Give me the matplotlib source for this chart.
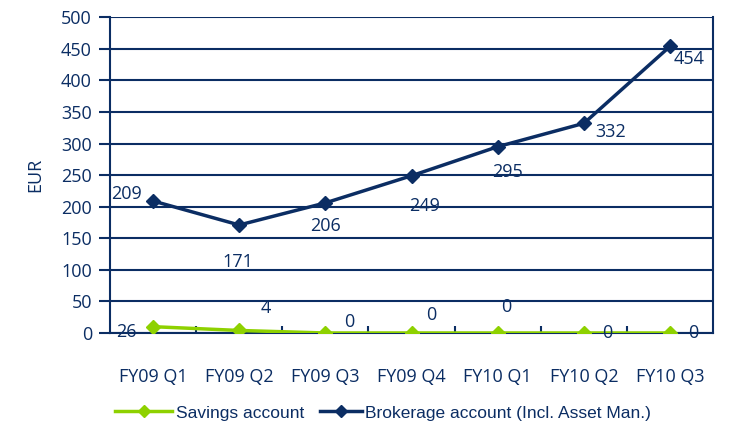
import matplotlib
matplotlib.use("Agg")
import matplotlib.pyplot as plt
from matplotlib.lines import Line2D

categories = ["FY09 Q1", "FY09 Q2", "FY09 Q3", "FY09 Q4", "FY10 Q1", "FY10 Q2", "FY10 Q3"]
savings = [10, 4, 0, 0, 0, 0, 0]
savings_labels = ["26", "4", "0", "0", "0", "0", "0"]
brokerage = [209, 171, 206, 249, 295, 332, 454]
brokerage_labels = ["209", "171", "206", "249", "295", "332", "454"]

navy = "#0b2d63"
green = "#8ed100"

plt.rcParams['font.family'] = ['Open Sans', 'DejaVu Sans']

fig = plt.figure(figsize=(7.33, 4.30), dpi=100)
ax = fig.add_axes([0.150, 0.2256, 0.823, 0.7344])
x = list(range(len(categories)))

ax.plot(x, savings, color=green, lw=2.5, marker="D", ms=7, zorder=3)
ax.plot(x, brokerage, color=navy, lw=2.5, marker="D", ms=7, zorder=4)

ax.set_xlim(-0.5, 6.5)
ax.set_ylim(0, 500)
ax.set_yticks(range(0, 501, 50))
ax.yaxis.grid(True, color=navy, lw=1.5)
ax.set_axisbelow(True)
ax.set_xticks(x)
ax.set_xticklabels(categories, fontsize=13, color=navy)
ax.tick_params(axis='x', length=0, pad=25)
ax.set_xticks([i + 0.5 for i in range(6)], minor=True)
ax.tick_params(axis='x', which='minor', length=5, color=navy, width=1.5, direction='in')
ax.tick_params(axis='y', labelsize=13, labelcolor=navy, length=8, color=navy, width=1.5, direction='out', pad=5)
ax.set_ylabel("EUR", fontsize=13, color=navy, labelpad=12)
for s in ["left", "right", "bottom"]:
    ax.spines[s].set_color(navy)
    ax.spines[s].set_linewidth(1.5)
ax.spines["top"].set_visible(False)

b_off = [(-19, 5), (-1, -27), (0, -17), (9, -22), (7, -18), (19, -6), (14, -9)]
for i, (v, lab) in enumerate(zip(brokerage, brokerage_labels)):
    ax.annotate(lab, (i, v), xytext=b_off[i], textcoords="offset points",
                ha="center", va="center", fontsize=13, color=navy)
s_off = [(-19, -4), (19, 16), (17, 8), (14, 13), (6, 19), (17, 0), (17, 0)]
for i, (v, lab) in enumerate(zip(savings, savings_labels)):
    ax.annotate(lab, (i, v), xytext=s_off[i], textcoords="offset points",
                ha="center", va="center", fontsize=13, color=navy)

legend_font = {'family': 'Liberation Sans', 'size': 12.5}
h1 = Line2D([], [], color=green, lw=2.5, marker="D", ms=6)
h2 = Line2D([], [], color=navy, lw=2.5, marker="D", ms=6)
leg1 = fig.legend([h1], ["Savings account"], loc="center left",
                  bbox_to_anchor=(115 / 733, 1 - 413 / 430), frameon=False,
                  prop=legend_font, labelcolor=navy, borderpad=0, borderaxespad=0,
                  handlelength=3.3, handletextpad=0.2)
leg2 = fig.legend([h2], ["Brokerage account (Incl. Asset Man.)"], loc="center left",
                  bbox_to_anchor=(320 / 733, 1 - 413 / 430), frameon=False,
                  prop=legend_font, labelcolor=navy, borderpad=0, borderaxespad=0,
                  handlelength=2.4, handletextpad=0.2)

fig.savefig("out.png", dpi=100)
